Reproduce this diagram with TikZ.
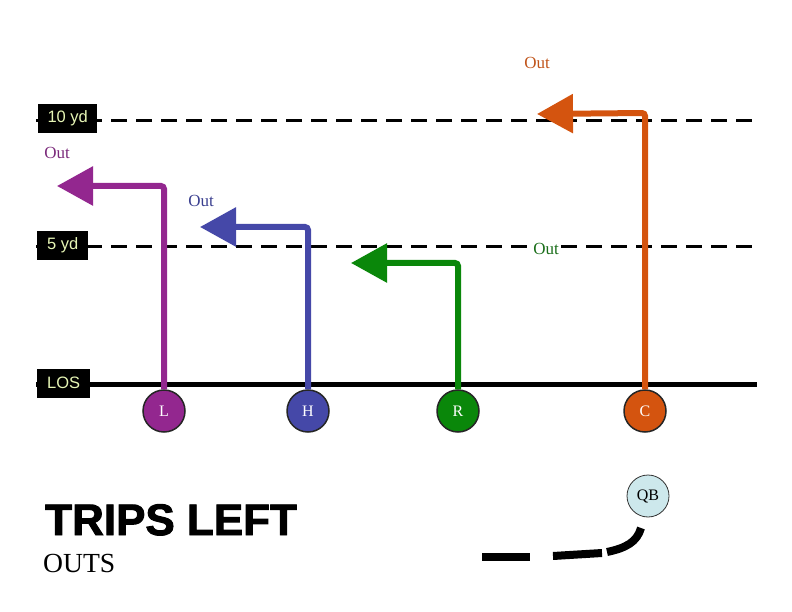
\documentclass[tikz,border=0pt]{standalone}
\usepackage{fontspec}
\setmainfont{Liberation Serif}
\newfontfamily\arialf{Liberation Sans}
\newfontfamily\arialblack[FakeBold=2.2]{Liberation Sans Bold}
\usetikzlibrary{arrows.meta}
\definecolor{purpleC}{HTML}{93278F}
\definecolor{blueC}{HTML}{4548A8}
\definecolor{greenC}{HTML}{0A870A}
\definecolor{orangeC}{HTML}{D4540F}
\definecolor{purpleT}{HTML}{7B2A7B}
\definecolor{blueT}{HTML}{3A3F8F}
\definecolor{greenT}{HTML}{1A6E1A}
\definecolor{orangeT}{HTML}{C0541A}
\definecolor{labT}{HTML}{E6F5B5}
\definecolor{qbC}{HTML}{CDE8EC}
\begin{document}
\begin{tikzpicture}[x=1pt,y=-1pt,
  yardline/.style={line width=3pt,dash pattern=on 16pt off 9pt},
  losline/.style={line width=5pt},
  ylab/.style={fill=black,text=labT,font=\arialf\fontsize{16.5}{16.5}\selectfont,minimum height=29pt,inner sep=0pt,anchor=west},
  player/.style={circle,minimum size=42pt,inner sep=0pt,draw=black!85,line width=1.5pt,text=white,font=\fontsize{16}{16}\selectfont},
  route/.style={line width=6pt,rounded corners=3pt,-{Triangle[length=36pt,width=38pt]}},
  outlab/.style={font=\fontsize{17}{17}\selectfont},
  thickdash/.style={line width=8pt}
]
\useasboundingbox (0,0) rectangle (792,612);
% yard lines
\coordinate (a10) at (36,121); \coordinate (b10) at (757,121);
\coordinate (a5) at (36,247); \coordinate (b5) at (757,247);
\coordinate (aL) at (36,384); \coordinate (bL) at (757,384);
\draw[yardline] (a10) -- (b10);
\draw[yardline] (a5) -- (b5);
\draw[losline] (aL) -- (bL);
\node[ylab,minimum width=59pt] (y10) at (38,118.5) {10 yd};
\node[ylab,minimum width=51pt] (y5) at (37,245.5) {5 yd};
\node[ylab,minimum width=53pt] (ylos) at (37,383) {LOS};
% players
\node[player,fill=purpleC] (L) at (164,411) {L};
\node[player,fill=blueC] (H) at (308,411) {H};
\node[player,fill=greenC] (R) at (458,411) {R};
\node[player,fill=orangeC] (C) at (645,411) {C};
\node[player,fill=qbC,text=black,draw=black!80,line width=0.8pt] (QB) at (648,496) {QB};
% route corners and tips
\coordinate (Lc) at (164,186); \coordinate (Lt) at (57,186);
\coordinate (Hc) at (308,227); \coordinate (Ht) at (200,227);
\coordinate (Rc) at (458,263); \coordinate (Rt) at (351,263);
\coordinate (Cc) at (645,113); \coordinate (Ct) at (537,114);
\draw[route,purpleC] (L.north) -- (Lc) -- (Lt);
\draw[route,blueC] (H.north) -- (Hc) -- (Ht);
\draw[route,greenC] (R.north) -- (Rc) -- (Rt);
\draw[route,orangeC] (C.north) -- (Cc) -- (Ct);
% Out labels
\node[outlab,text=purpleT] (o1) at (57,153) {Out};
\node[outlab,text=blueT] (o2) at (201,201) {Out};
\node[outlab,text=greenT,fill=white,inner sep=1pt] (o3) at (546,249) {Out};
\node[outlab,text=orangeT] (o4) at (537,63) {Out};
% titles
\node[anchor=base west,inner sep=0pt,font=\arialblack\fontsize{44}{44}\selectfont] (title) at (45,535) {TRIPS LEFT};
\node[anchor=base west,inner sep=0pt,font=\fontsize{27.6}{27.6}\selectfont] (sub) at (43,572) {OUTS};
% QB drop
\coordinate (d1a) at (482,557); \coordinate (d1b) at (530,557);
\coordinate (d2a) at (553,556); \coordinate (d2b) at (602,553);
\coordinate (d3a) at (607,552); \coordinate (d3b) at (641,528);
\draw[thickdash] (d1a) -- (d1b);
\draw[thickdash] (d2a) -- (d2b);
\draw[thickdash] (d3a) .. controls (626,548) and (637,542) .. (d3b);
\end{tikzpicture}
\end{document}
